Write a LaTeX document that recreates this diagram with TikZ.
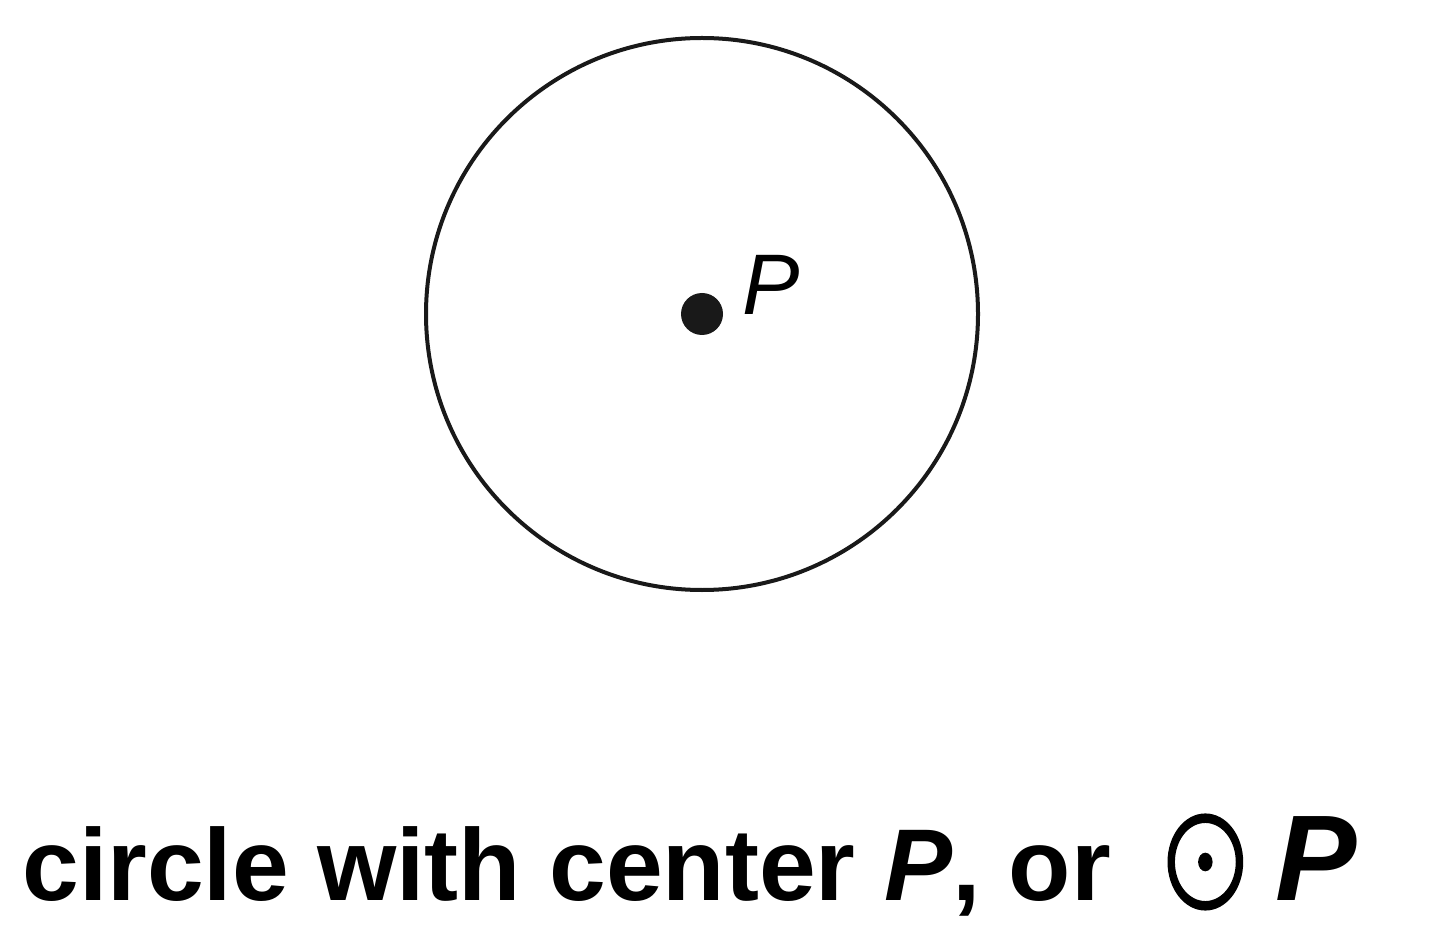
\documentclass[tikz,border=0pt]{standalone}
\usepackage{fontspec}
\usepackage{graphicx}
\setmainfont{Liberation Sans}
\newfontfamily\odotfont{latinmodern-math.otf}[FakeBold=3]
\begin{document}
\begin{tikzpicture}[x=0.5pt,y=-0.5pt,
  ring/.style={draw=black!90, line width=2pt},
  centerdot/.style={circle, fill=black!90, inner sep=0pt, minimum size=21pt},
  caption/.style={font=\fontsize{51}{60}\selectfont\bfseries, inner sep=0pt}]
\useasboundingbox (0,0) rectangle (1440,930);
\coordinate (c) at (702,314);
\draw[ring] (c) circle[radius=276];
\node[centerdot] (p) at (c) {};
\node[anchor=base west, inner sep=0pt, font=\fontsize{43}{50}\selectfont\itshape] (plabel) at (742,315) {P};
\node[caption, anchor=base west] (cap) at (22,900) {circle with center \textit{P}, or \hspace{12.5pt}\raisebox{2pt}{\scalebox{5.3}[6.8]{\odotfont\mdseries\fontsize{10}{12}\selectfont ⊙}}\hspace{14.5pt}{\fontsize{61}{70}\selectfont\textit{P}}};
\end{tikzpicture}
\end{document}
